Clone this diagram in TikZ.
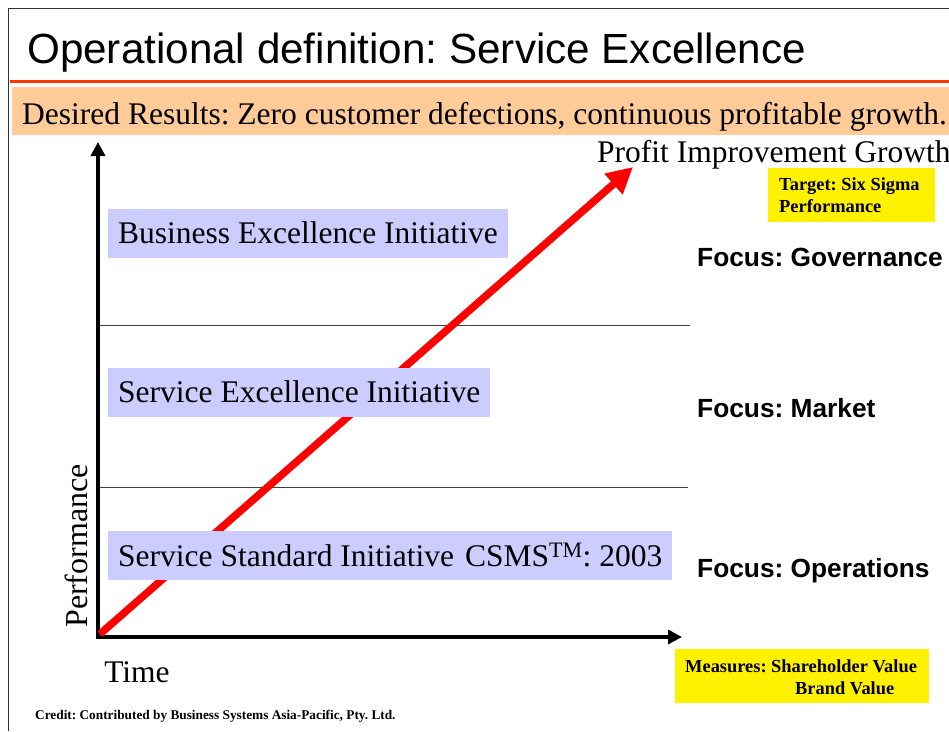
\documentclass[tikz,border=0pt]{standalone}
\usepackage{fontspec}
\setmainfont{Liberation Serif}
\setsansfont{Liberation Sans}
\usetikzlibrary{arrows.meta,positioning}
\frenchspacing
\definecolor{bandorange}{RGB}{255,204,153}
\definecolor{ruleorange}{RGB}{255,51,0}
\definecolor{initblue}{RGB}{204,204,255}
\tikzset{
  initbox/.style={fill=initblue,anchor=west,inner xsep=10pt,minimum height=49pt,font=\fontsize{31.5}{33}\selectfont},
  focuslabel/.style={anchor=west,inner sep=0pt,font=\sffamily\bfseries\fontsize{26.3}{29}\selectfont},
  notebox/.style={anchor=west,inner sep=0pt,align=left,font=\bfseries\fontsize{18.4}{22.5}\selectfont},
  axisline/.style={line width=4.5pt,-{Triangle[length=14pt,width=14pt]}},
  levelline/.style={black!75,line width=0.9pt}
}
\begin{document}
\begin{tikzpicture}[x=1pt,y=-1pt]
  \useasboundingbox (0,0) rectangle (949,731);
  \fill[white] (0,0) rectangle (949,731);
  % slide frame and heading
  \draw[black!80,line width=1pt] (8,731) -- (8,8) -- (949,8);
  \node[anchor=base west,inner sep=0pt,font=\sffamily\fontsize{42.2}{44}\selectfont] (title) at (27,63) {Operational definition: Service Excellence};
  \fill[ruleorange] (10,80) rectangle (949,83);
  \fill[bandorange] (12,87) rectangle (949,135);
  \node[anchor=base west,inner sep=0pt,font=\fontsize{31.5}{33}\selectfont] (results) at (22,124) {Desired Results: Zero customer defections, continuous profitable growth.};
  % axes
  \coordinate (O) at (98,637);
  \coordinate (ytop) at (98,142);
  \coordinate (xend) at (682,637);
  \draw[axisline] ([yshift=2pt]O) -- (ytop);
  \draw[axisline] ([xshift=-2pt]O) -- (xend);
  \node[rotate=90,inner sep=0pt,font=\fontsize{32}{34}\selectfont] (perf) at (76,546) {Performance};
  \node[inner sep=0pt,font=\fontsize{31.5}{33}\selectfont] (time) at (137,672) {Time};
  % level separators
  \draw[levelline] (100,325) -- (690,325);
  \draw[levelline] (100,487) -- (688,487);
  % growth arrow, kept under the initiative boxes
  \coordinate (gstart) at (100,634);
  \coordinate (gend) at (633,167);
  \draw[red,line width=7.5pt,-{Triangle[length=26pt,width=26pt]}] (gstart) -- (gend);
  \node[anchor=base west,inner sep=0pt,font=\fontsize{31.5}{33}\selectfont] (profit) at (597,162) {Profit Improvement Growth};
  % initiatives
  \node[initbox] (bei) at (108,233) {Business Excellence Initiative};
  \node[initbox] (sei) at (108,392) {Service Excellence Initiative};
  \node[initbox] (ssi) at (108,555) {Service Standard Initiative\hspace{0.1em} CSMS\textsuperscript{TM}: 2003};
  % right hand notes
  \fill[yellow] (768,168) rectangle (935,222);
  \node[notebox] (target) at (779,195) {Target: Six Sigma\\Performance};
  \node[focuslabel] (fgov) at (697,257) {Focus: Governance};
  \node[focuslabel] (fmkt) at (697,408) {Focus: Market};
  \node[focuslabel] (fops) at (697,571) {Focus: Operations};
  \fill[yellow] (675,649) rectangle (929,703);
  \node[notebox] (measures) at (685,677) {Measures: Shareholder Value\\\hspace*{110pt}Brand Value};
  \node[anchor=base west,inner sep=0pt,font=\bfseries\fontsize{13.3}{15}\selectfont] (credit) at (35,719) {Credit: Contributed by Business Systems Asia-Pacific, Pty. Ltd.};
\end{tikzpicture}
\end{document}
